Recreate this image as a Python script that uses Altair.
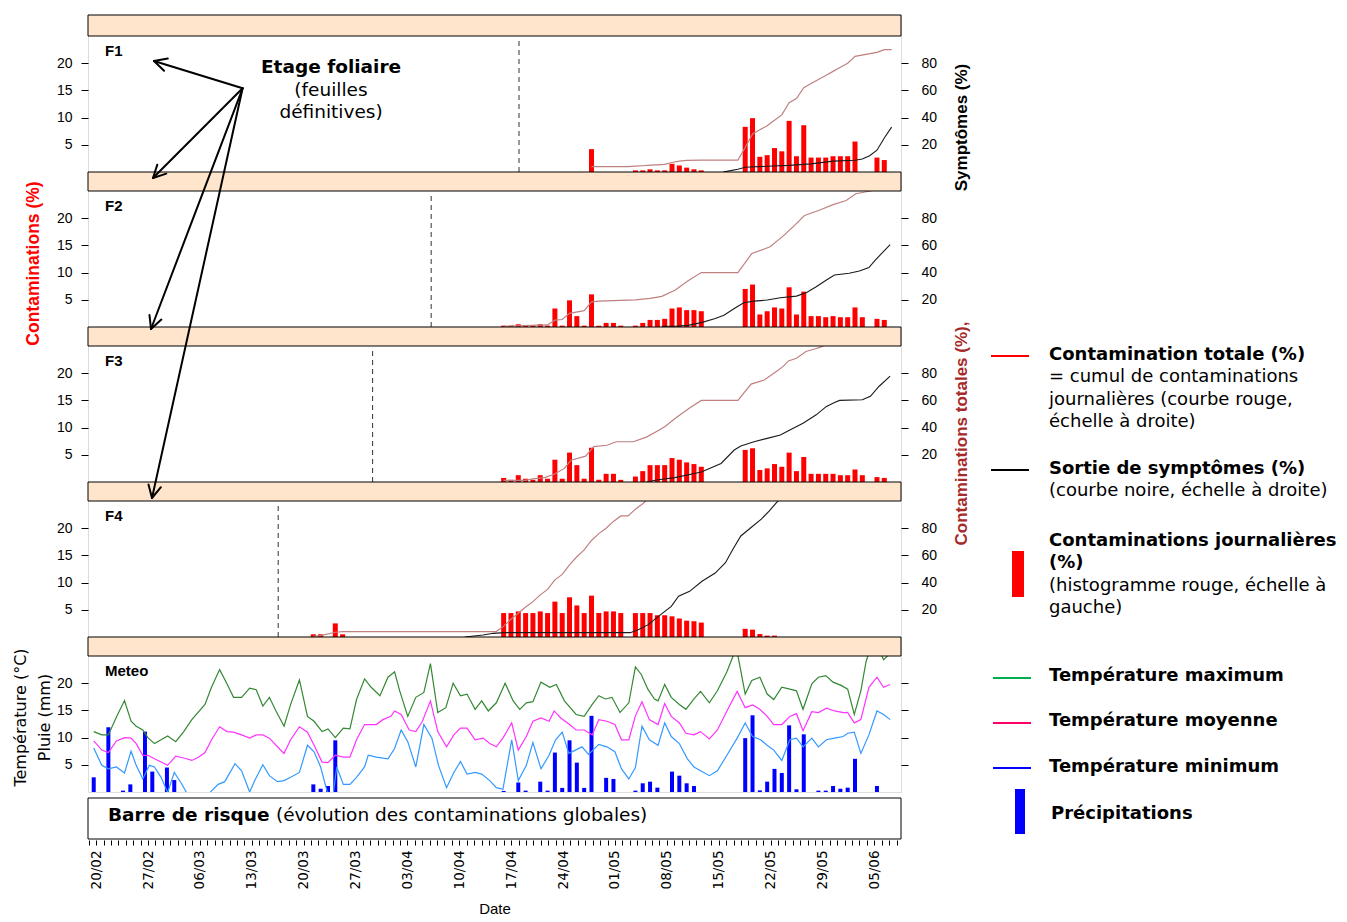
import math
import altair as alt
import pandas as pd

# ------------------------------------------------------------------ data
# x = day offset from 20/02 (0 = 20/02, 7 = 27/02, ...)
X_MIN, X_MAX = -1.1, 108.6
AXIS_DAYS = list(range(-1, 109))
DASH_DAYS = [57.1, 45.1, 37.1, 24.2]          # F1, F2, F3, F4 emergence lines

# daily contaminations (%), left scale
F1_DAYS = [67, 73, 74, 75, 76, 77, 78, 79, 80, 81, 82,
           88, 89, 90, 91, 92, 93, 94, 95, 96, 97, 98, 99, 100, 101, 102, 103, 106, 107]
F1_DAILY = [4.2, 0.3, 0.3, 0.5, 0.3, 0.3, 1.5, 1.2, 0.8, 0.5, 0.3,
            8.3, 9.9, 2.8, 3.1, 4.4, 3.8, 9.4, 2.9, 8.6, 2.65, 2.65, 2.65, 2.9, 2.9, 2.9, 5.6, 2.65, 2.2]
F2_DAYS = list(range(55, 108))
F2_DAILY = [0.25, 0.25, 0.5, 0.25, 0.25, 0.5, 0.25, 3.4, 0.25, 4.9,
            2.0, 0.25, 6.0, 0.25, 0.75, 0.75, 0.25, 0, 0.25, 0.75,
            1.3, 1.3, 1.5, 3.4, 3.6, 3.1, 3.1, 2.9,
            0, 0, 0, 0, 0,
            7.0, 7.8, 2.3, 2.9, 3.6, 3.4, 7.3, 2.3, 6.5, 2.0, 2.0, 1.8, 2.0, 1.8, 1.8, 3.6, 1.8,
            0, 1.5, 1.3]
F3_DAYS = list(range(55, 108))
F3_DAILY = [0.75, 0.4, 1.25, 0.6, 0.4, 1.25, 0.6, 4.1, 0.6, 5.4,
            3.1, 0.6, 6.3, 0.4, 1.5, 1.5, 0.4, 0, 1.0, 2.0,
            3.1, 3.1, 3.1, 4.4, 4.1, 3.6, 3.3, 2.8,
            0, 0, 0, 0, 0,
            5.9, 6.2, 2.2, 2.5, 3.3, 2.8, 5.4, 2.0, 4.6, 1.5, 1.5, 1.5, 1.5, 1.25, 1.25, 2.3, 1.25,
            0, 0.9, 0.75]
F4_DAYS = [29, 30, 32, 33] + list(range(55, 72)) + list(range(73, 83)) + list(range(88, 93))
F4_DAILY = [0.5, 0.5, 2.5, 0.5,
            4.4, 4.4, 4.7, 4.4, 4.4, 4.7, 4.4, 6.5, 4.4, 7.3, 5.8, 4.4, 7.6, 4.4, 4.7, 4.7, 4.4,
            4.4, 4.4, 4.4, 4.0, 4.0, 3.8, 3.4, 3.0, 2.9, 2.65,
            1.5, 1.35, 0.55, 0.25, 0.25]

# contamination totale (%), right scale
F1_TOT_DAYS = [67, 72, 73, 74, 75, 76, 77, 78, 79, 80, 82, 87, 88, 89, 90, 91, 92, 93, 94, 95,
               96, 97, 98, 99, 100, 101, 102, 103, 106, 107, 108]
F1_TOT = [4, 4, 4.3, 4.6, 5, 5.3, 5.6, 7, 8, 8.5, 8.8, 8.8, 18, 28, 31, 34, 38, 42, 51, 54,
          62, 65, 68, 71, 74, 77, 80, 85, 88, 90, 90]
F2_TOT_DAYS = [55, 61, 62, 63, 64, 66, 67, 68, 73, 75, 76.6, 78.4, 80.2, 82, 87, 88.9, 91.4, 93.2,
               94.6, 96.1, 98.2, 100, 101.8, 103.1, 105.1, 107]
F2_TOT = [0.5, 1.5, 5, 5.5, 10, 12, 18.5, 19, 20, 21, 22.5, 27, 34, 40, 40, 54, 59, 67,
          74, 82, 86, 90, 93, 98, 100, 103]
F3_TOT_DAYS = [55, 57.9, 59.2, 60.6, 61.9, 63.3, 64.2, 66.2, 67.3, 69.1, 70.4, 72.7, 74.5, 76.2,
               77.1, 78.5, 80.3, 82, 87, 88.8, 90.6, 92.3, 93.2, 93.9, 95, 96.3, 97.6, 98.2, 99, 101]
F3_TOT = [1.2, 1.2, 2.5, 3.2, 5.7, 10, 16, 19, 26, 27, 29.6, 29.6, 33, 38,
          41, 47, 54, 60, 60, 72, 75, 81.5, 85, 89, 91, 96, 98, 99, 101, 104]
F4_TOT_DAYS = [29, 30, 32, 33, 54, 55, 56, 57, 58, 59, 60, 61, 62, 63, 64, 65, 66, 67, 68, 69,
               70, 71, 72, 73, 74, 75, 76]
F4_TOT = [0.5, 1, 3.5, 4, 4, 8, 13, 17.5, 22, 26, 31, 35, 42, 46, 53, 59, 64, 71, 76, 80,
          85, 89, 89, 94, 98, 103, 107]

# sortie de symptomes (%), right scale
F1_SYM_DAYS = [85, 86, 87, 88, 91, 94, 97, 100, 103, 104, 105, 106, 107, 108]
F1_SYM = [0, 1, 2, 3.5, 4.2, 4.9, 6, 8, 8.6, 9.5, 12, 16, 25, 33]
F2_SYM_DAYS = [76.6, 78.4, 80.2, 82, 83.8, 85.1, 86.5, 87.8, 89.2, 91, 92.8, 95, 96.4, 97.7, 99.1,
               100.2, 102.2, 103.6, 104.9, 105.8, 107.8]
F2_SYM = [0.5, 0.5, 1.2, 3.2, 6, 8.6, 13.6, 17.8, 19, 19.8, 21.5, 22.7, 25.4, 29.6, 34.6,
          38.3, 39.5, 41.2, 43.7, 49.4, 60.5]
F3_SYM_DAYS = [74.5, 76.1, 78.4, 82, 84.7, 86.5, 87.4, 89.2, 91, 92.8, 94.1, 95.9, 97.7, 99.1,
               100.2, 100.9, 104, 105.1, 106.3, 107.8]
F3_SYM = [0, 1.7, 3.2, 7.4, 13.6, 23.5, 26.4, 29.6, 32.1, 34.6, 38.3, 43.2, 49.4, 55.6,
          58.5, 60, 60.5, 63, 70.4, 77.8]
F4_SYM_DAYS = [49.7, 52.2, 53.6, 55, 72.3, 73.3, 74.7, 76.1, 77.9, 78.9, 80.4, 82.1, 83.9, 85.3,
               86.3, 87.4, 88.8, 90.2, 91.3, 92.3, 93.3]
F4_SYM = [0, 1.5, 2.7, 3.2, 3.2, 5.2, 8.9, 15, 22.5, 30, 33.6, 41, 47, 54.6,
          64.4, 74.3, 80.5, 86.7, 92.8, 99, 104]

# meteo
TMAX_DAYS = [-1.0, 0.1, 1.0, 2.1, 3.2, 4.1, 4.8, 5.7, 6.4, 7.3, 8.2, 9.1, 10.2, 11.3, 12.4, 14.2,
             15.1, 16.2, 17.2, 18.1, 19.2, 20.3, 21.2, 22.1, 23.0, 23.9, 25.0, 25.9, 27.1, 28.2,
             29.1, 30.2, 31.0, 32.0, 33.1, 34.0, 34.9, 36.0,
             36.9, 38.1, 39.2, 40.1, 40.8, 41.9, 43.0, 44.1, 45.0, 46.0, 47.1, 48.1, 49.1, 50.0,
             51.1, 52.0, 52.9, 54.0, 55.2, 56.3, 57.2, 58.1, 59.0, 60.1, 61.3, 62.2, 63.3, 64.9,
             66.0, 67.1, 68.0, 68.9, 69.8, 70.9, 72.1,
             73.0, 73.8, 74.7, 75.6, 76.1, 77.0, 77.9, 79.0, 79.9, 81.0, 81.9, 83.1, 84.2, 85.5,
             86.4, 86.9, 88.0, 88.9, 90.0, 91.0, 91.9, 93.0, 94.1, 95.0, 95.9, 97.1, 98.0, 99.0,
             100.0, 101.1, 102.0, 102.9, 103.8, 104.5, 105.1, 106.0, 106.9, 107.6]
TMAX = [11.1, 10.5, 10.5, 13.8, 16.8, 13, 12.1, 11.4, 10, 8.9, 9.6, 10.3, 9.25, 11.1, 13.3, 16.1,
        19.3, 22.5, 19.9, 17.4, 17.4, 19.1, 18.8, 15.8, 17.4, 14.9, 12.1, 16.1, 20.6, 13.9,
        13, 11.1, 11.6, 10, 11.75, 11.6, 17, 20.8,
        19.25, 17.7, 21.1, 22.1, 18.6, 13.9, 17.4, 18.3, 23.6, 14.6, 15.5, 20, 17.7, 18,
        15.2, 16.75, 14.9, 16.4, 20, 16.75, 15.2, 16.4, 16.6, 20.2, 19.25, 19.75, 16.75, 14.25,
        13.9, 16.1, 17.7, 17.1, 17.4, 14.6, 16.4,
        23, 21.6, 18.9, 17.1, 16.75, 19.75, 17.4, 16.1, 15.2, 17.1, 18.5, 16.4, 18.6, 22.1,
        25.2, 25.8, 18, 20.5, 21.1, 18, 17, 19.25, 18.9, 18.6, 15.2, 19.9, 21.1, 21.4,
        20.2, 19.6, 18.9, 14.25, 18.6, 23.9, 26.5, 27, 24.3, 25.2]
TMEAN_DAYS = [-1.0, 0.1, 1.0, 2.1, 3.2, 4.1, 4.8, 5.7, 6.4, 7.3, 8.2, 9.1, 10.2, 11.3, 12.4, 13.3,
              14.2, 15.1, 16.2, 17.2, 18.1, 19.2, 20.3, 21.2, 22.1, 23.0, 23.9, 25.0, 25.9, 27.1,
              28.2, 29.1, 30.2, 31.0, 32.0, 33.1, 34.0, 34.9, 36.0,
              36.5, 37.6, 38.5, 39.6, 40.1, 41.0, 42.1, 43.0, 43.9, 45.0, 46.0, 47.2, 48.2, 49.1,
              50.0, 51.1, 52.2, 53.1, 54.0, 54.9, 56.1, 57.0, 58.1, 59.0, 60.1, 61.2, 61.9, 62.8,
              64.0, 64.9, 66.0, 67.1, 68.0, 69.1, 70.2, 71.1, 72.1,
              73.0, 73.9, 74.9, 76.1, 77.0, 77.9, 79.0, 79.9, 81.0, 81.9, 83.1, 84.2, 85.5, 86.9,
              88.0, 89.0, 90.0, 91.0, 91.9, 93.0, 94.1, 95.0, 95.9, 97.1, 98.0, 99.1, 100.2,
              101.4, 102.0, 102.9, 103.8, 104.9, 106.0, 106.9, 107.8]
TMEAN = [9.4, 7.7, 7.25, 9.4, 10, 9.9, 8.9, 6.75, 6.75, 6.1, 5.5, 4.9, 6.6, 6.25, 5.8, 6.4,
         7.25, 9.6, 12, 11.1, 11, 10.5, 9.9, 10.5, 10.5, 9.9, 8.6, 7.1, 9.6, 12,
         11, 8.6, 5.5, 5.4, 6.75, 6.4, 6.4, 9.6, 12.4,
         12.4, 12.4, 13.3, 13.9, 14.9, 14.25, 11.4, 11.1, 13, 16.75, 11.1, 8.3, 10.5, 11.75,
         11.75, 9.6, 9.9, 8.9, 8.3, 9.9, 12.7, 7.7, 10.2, 13, 13.6, 13, 14.9, 13.6,
         12.4, 11.4, 11.4, 10.5, 13.3, 13, 12.4, 9.6, 9.6,
         14, 16.6, 13.3, 12.4, 16.25, 13.9, 12.7, 10.8, 10.5, 11.1, 9.75, 11.4, 14.9, 18.5,
         15.5, 16, 15.2, 13.9, 12.4, 12.4, 13.9, 14.4, 11.25, 14.75, 14.6, 15.4, 14.9,
         14.6, 14.6, 12.7, 13.3, 19.25, 21.1, 19.25, 19.75]
TMIN_DAYS = [-1.0, 0.1, 1.0, 2.1, 3.2, 4.1, 4.8, 5.7, 6.6, 7.3, 8.2, 9.1, 10.0, 10.9, 11.8, 13.5,
             15.1, 16.0, 16.9, 18.3, 19.2, 20.3, 21.0, 22.1, 23.0, 24.1, 25.0, 25.9, 27.1, 28.2,
             29.1, 30.0, 30.9, 31.7, 32.2, 33.1, 34.0, 34.9, 36.0,
             36.5, 37.6, 39.2, 40.1, 41.0, 41.9, 43.0, 44.1, 45.2, 46.1, 47.2, 48.2, 49.1, 50.0,
             51.1, 52.0, 53.1, 54.0, 54.9, 56.1, 57.0, 58.1, 59.0, 60.1, 61.2, 62.1, 63.0, 63.9,
             64.8, 65.7, 66.6, 68.0, 69.1, 70.2, 71.1, 72.1,
             73.0, 73.9, 74.9, 76.1, 77.0, 77.9, 79.0, 80.1, 81.0, 81.9, 83.1, 84.2, 85.5, 86.9,
             88.0, 89.0, 90.1, 91.0, 91.9, 93.0, 94.1, 95.0, 95.9, 97.1, 98.0, 99.1, 100.2,
             101.4, 102.0, 102.9, 103.8, 104.9, 106.0, 106.9, 107.8]
TMIN = [8.1, 4.9, 4.25, 4.6, 3.5, 7.5, 4.9, 2.4, 4.9, 4.6, 2.7, -0.1, 3.6, 1.75, -0.4, -2,
        0.2, 1.4, 1.9, 5.2, 3.9, 0, 2.1, 5, 3, 1.9, 2.1, 2.7, 3.6, 8.6,
        7.4, 4.6, 0, -0.5, 4.6, 1.4, 1.4, 2.7, 4.6,
        6.75, 6.4, 6.1, 8, 11.4, 9.25, 4.6, 12.4, 9.9, 4.9, 0.8, 3.6, 5.6, 3.3,
        3.6, 3.3, 2.1, 0.8, 0.5, 9.6, 2.1, 4.9, 9.1, 4.25, 6.75, 9.6, 11, 7.1,
        7.7, 8.3, 6.9, 8.75, 8.3, 7.4, 4.25, 2.4,
        4.5, 12.1, 9.6, 8.6, 12.7, 10.2, 8.9, 6.1, 4.6, 3.9, 3, 3.9, 6.75, 9.9,
        12.7, 10.2, 9.6, 8.6, 7.7, 5.8, 9.6, 9.9, 8.3, 9.9, 8.3, 9.6, 9.9,
        10.2, 10.8, 11, 7.1, 10.5, 14.9, 14.25, 13.3]
RAIN_DAYS = [-1, 1, 3, 4, 6, 7, 9, 10, 29, 30, 31, 32, 55, 57, 58, 60, 61, 62, 63, 64, 65, 66, 67,
             69, 70, 73, 74, 75, 76, 78, 79, 80, 81, 88, 89, 90, 91, 92, 93, 94, 95, 96, 98, 99,
             100, 101, 102, 103, 106]
RAIN = [2.7, 11.9, 0.25, 1.4, 11.1, 3.75, 4.5, 2.2, 1.4, 0.6, 1.1, 9.5, 0.2, 1.75, 0.25, 1.9, 0.25,
        7.25, 0.75, 9.5, 5.4, 0.75, 14, 2.6, 2.4, 0.25, 1.6, 1.9, 0.8, 3.75, 3.0, 1.6, 1.1, 9.9,
        14.1, 0.3, 1.9, 4.25, 3.5, 12.25, 0.5, 10.6, 0.25, 0.25, 1.1, 0.6, 0.8, 6.1, 1.1]

# ------------------------------------------------------------------ style
W = 813
PLOT_H = 136
UNIT = PLOT_H / 25.0
STRIP = "#ffe5cc"
RED = "#ff0000"
TOT_COL = "#c08080"
SYM_COL = "#1a1a1a"
SANS = "Liberation Sans"
VERD = "DejaVu Sans"
XS = alt.Scale(domain=[X_MIN, X_MAX], nice=False, zero=False)
ONE = pd.DataFrame({"z": [0]})
TICK_FS = 14


def xenc(field="day"):
    return alt.X(f"{field}:Q", scale=XS, axis=None)


def axis_common(orient, values, labels=True):
    return dict(orient=orient, values=list(values), tickSize=7,
                labelPadding=9 if orient == "left" else 13, domain=False, grid=False,
                labelFont=SANS, labelFontSize=TICK_FS, labelColor="black", tickColor="black",
                ticks=True, labels=labels)


def title_kw(title, tx, ty, color, size=17, weight="bold", font=SANS, lh=None):
    kw = dict(title=title, titleX=tx, titleY=ty, titleAngle=270, titleBaseline="middle",
              titleAlign="center", titleColor=color, titleFont=font, titleFontSize=size,
              titleFontWeight=weight)
    if lh:
        kw["titleLineHeight"] = lh
    return kw


def make_axis(orient, values, title=None, labels=True, **tk):
    kw = axis_common(orient, values, labels)
    if title is None:
        kw["title"] = None
    else:
        kw.update(title_kw(title, **tk))
    return alt.Axis(**kw)


def overlay(strip_h, label):
    strip = alt.Chart(ONE).mark_rect(fill=STRIP, stroke="black", strokeWidth=1).encode(
        x=alt.value(0), x2=alt.value(W), y=alt.value(0), y2=alt.value(strip_h))
    txt = alt.Chart(ONE).mark_text(font=SANS, fontSize=15, fontWeight="bold", align="left",
                                   baseline="middle", color="black").encode(
        x=alt.value(17), y=alt.value(strip_h + 15), text=alt.value(label))
    return [strip, txt]


def f_panel(label, strip_h, days, daily, tdays, tot, sdays, sym, dash,
            ltitle=None, rtitle=None, extra=()):
    H = PLOT_H + strip_h
    ymax = 25 + strip_h / UNIT
    if ltitle:
        laxis = make_axis("left", [5, 10, 15, 20], ltitle[0], tx=ltitle[1], ty=ltitle[2],
                          color=RED, size=17.5)
    else:
        laxis = make_axis("left", [5, 10, 15, 20])
    if rtitle:
        raxis = make_axis("right", [20, 40, 60, 80], rtitle[0], tx=rtitle[1], ty=rtitle[2],
                          color=rtitle[3], size=17)
    else:
        raxis = make_axis("right", [20, 40, 60, 80])
    bars = alt.Chart(pd.DataFrame({"day": days, "v": daily})).mark_bar(color=RED, size=5).encode(
        x=xenc(),
        y=alt.Y("v:Q", scale=alt.Scale(domain=[0, ymax], nice=False, zero=True), axis=laxis))
    rscale = alt.Scale(domain=[0, 4 * ymax], nice=False, zero=True)
    tot_line = alt.Chart(pd.DataFrame({"day": tdays, "v": tot})).mark_line(
        clip=True, strokeWidth=1.2, color=TOT_COL).encode(
        x=xenc(), y=alt.Y("v:Q", scale=rscale, axis=raxis))
    sym_line = alt.Chart(pd.DataFrame({"day": sdays, "v": sym})).mark_line(
        clip=True, strokeWidth=1.1, color=SYM_COL).encode(
        x=xenc(), y=alt.Y("v:Q", scale=rscale, axis=raxis))
    dashrule = alt.Chart(pd.DataFrame({"d": [dash]})).mark_rule(
        strokeDash=[5, 4], color="#333333", strokeWidth=1).encode(
        x=xenc("d"), y=alt.value(strip_h + 5), y2=alt.value(H))
    layers = [bars, alt.layer(tot_line, sym_line), dashrule] + overlay(strip_h, label) + list(extra)
    return alt.layer(*layers).resolve_scale(y="independent").properties(width=W, height=H)


# ---- "Etage foliaire" annotation (in F1)
etage = [
    alt.Chart(ONE).mark_text(font=VERD, fontSize=18.5, fontWeight="bold", align="center",
                             baseline="middle", color="black").encode(
        x=alt.value(243), y=alt.value(52), text=alt.value("Etage foliaire")),
    alt.Chart(ONE).mark_text(font=VERD, fontSize=18.5, align="center", baseline="middle",
                             color="black", lineHeight=22).encode(
        x=alt.value(243), y=alt.value(75), text=alt.value(["(feuilles", "définitives)"])),
]

p1 = f_panel("F1", 21, F1_DAYS, F1_DAILY, F1_TOT_DAYS, F1_TOT, F1_SYM_DAYS, F1_SYM, DASH_DAYS[0],
             rtitle=("Symptômes (%)", 60, 112, "black"), extra=etage)
p2 = f_panel("F2", 19, F2_DAYS, F2_DAILY, F2_TOT_DAYS, F2_TOT, F2_SYM_DAYS, F2_SYM, DASH_DAYS[1],
             ltitle=("Contaminations (%)", -55, 91))
p3 = f_panel("F3", 19, F3_DAYS, F3_DAILY, F3_TOT_DAYS, F3_TOT, F3_SYM_DAYS, F3_SYM, DASH_DAYS[2],
             rtitle=("Contaminations totales (%),", 60, 106, "#a52a2a"))
p4 = f_panel("F4", 19, F4_DAYS, F4_DAILY, F4_TOT_DAYS, F4_TOT, F4_SYM_DAYS, F4_SYM, DASH_DAYS[3])

# ---- meteo panel
MS = 19
MH = PLOT_H + MS
mymax = 25 + MS / UNIT
mscale = alt.Scale(domain=[0, mymax], nice=False, zero=True)
maxis = make_axis("left", [5, 10, 15, 20], ["Température (°C)", "Pluie (mm)"], tx=-68, ty=80,
                  color="black", size=16, weight="normal", font=VERD, lh=24)
rain = alt.Chart(pd.DataFrame({"day": RAIN_DAYS, "v": RAIN})).mark_bar(color="#0000ff", size=4).encode(
    x=xenc(), y=alt.Y("v:Q", scale=mscale, axis=maxis))


def tline(days, vals, color):
    return alt.Chart(pd.DataFrame({"day": days, "v": vals})).mark_line(
        clip=True, strokeWidth=1.2, color=color).encode(
        x=xenc(), y=alt.Y("v:Q", scale=mscale, axis=maxis))


temps = [tline(TMAX_DAYS, TMAX, "#338833"), tline(TMEAN_DAYS, TMEAN, "#ff33ff"),
         tline(TMIN_DAYS, TMIN, "#3399ff")]
mright = alt.Chart(ONE).mark_point(opacity=0).encode(
    x=alt.value(0),
    y=alt.Y("z:Q", scale=alt.Scale(domain=[0, mymax], nice=False, zero=True),
            axis=make_axis("right", [5, 10, 15, 20], labels=False)))
meteo = alt.layer(alt.layer(rain, *temps), mright, *overlay(MS, "Meteo")).resolve_scale(
    y="independent").properties(width=W, height=MH)

# ---- risk bar + x axis + annotations (drawn last)
GAP = 6
RH = 47
box = alt.Chart(ONE).mark_rect(fill="white", stroke="black", strokeWidth=1).encode(
    x=alt.value(0), x2=alt.value(W), y=alt.value(GAP), y2=alt.value(RH))
label_expr = ("datum.value >= 0 && datum.value % 7 == 0 ? "
              "timeFormat(datetime(2007, 1, 20 + datum.value), '%d/%m') : ''")
xaxis = alt.Chart(pd.DataFrame({"day": AXIS_DAYS})).mark_point(opacity=0).encode(
    x=alt.X("day:Q", scale=XS,
            axis=alt.Axis(values=AXIS_DAYS, labelExpr=label_expr, labelAngle=270,
                          labelAlign="right", labelBaseline="middle", labelPadding=5,
                          labelOverlap=False, labelFont=VERD, labelFontSize=13.5,
                          labelColor="black", tickSize=5, tickColor="black", offset=1,
                          domain=False, grid=False, title="Date", titleFont=SANS,
                          titleFontSize=15, titleFontWeight="normal", titleY=68,
                          titleBaseline="middle", titleColor="black")),
    y=alt.value(20))
risk_txt = [
    alt.Chart(ONE).mark_text(font=VERD, fontSize=18.5, fontWeight="bold", align="left",
                             baseline="middle", color="black").encode(
        x=alt.value(20), y=alt.value(23), text=alt.value("Barre de risque")),
    alt.Chart(ONE).mark_text(font=VERD, fontSize=18.5, align="left", baseline="middle",
                             color="black").encode(
        x=alt.value(188), y=alt.value(23), text=alt.value("(évolution des contaminations globales)")),
]

# arrows from the "Etage foliaire" label to each leaf level (pixel geometry, risk-panel frame)
ORIG = (154.6, -703.7)
TIPS = [(66, -731), (65, -614), (63, -463), (64, -294)]
segs = []
for tx, ty in TIPS:
    segs.append((ORIG[0], ORIG[1], tx, ty))
    dx, dy = ORIG[0] - tx, ORIG[1] - ty
    n = math.hypot(dx, dy)
    ux, uy = dx / n, dy / n
    for a in (math.radians(27), math.radians(-27)):
        rx = ux * math.cos(a) - uy * math.sin(a)
        ry = ux * math.sin(a) + uy * math.cos(a)
        segs.append((tx, ty, tx + 14 * rx, ty + 14 * ry))
arrows = alt.Chart(pd.DataFrame(segs, columns=["x", "y", "x2", "y2"])).mark_rule(
    color="black", strokeWidth=2, strokeCap="round").encode(
    x=alt.X("x:Q", scale=None), y=alt.Y("y:Q", scale=None),
    x2="x2:Q", y2="y2:Q")

# legend (pixel geometry, risk-panel frame)
LEG_FS = 18


def leg_rule(x, x2, y, color):
    return alt.Chart(ONE).mark_rule(strokeWidth=2, color=color).encode(
        x=alt.value(x), x2=alt.value(x2), y=alt.value(y))


def leg_rect(x, x2, y, y2, color):
    return alt.Chart(ONE).mark_rect(color=color).encode(
        x=alt.value(x), x2=alt.value(x2), y=alt.value(y), y2=alt.value(y2))


leg_marks = [leg_rule(903, 941, -436, RED), leg_rule(903, 941, -322, "black"),
             leg_rule(905, 943, -114, "#00b050"), leg_rule(905, 943, -69, "#ff0066"),
             leg_rule(905, 943, -24, "#0000ff"),
             leg_rect(924, 936, -241, -195, RED), leg_rect(927, 937, -3, 42, "#0000ff")]
leg_bold = pd.DataFrame({
    "x": [961, 961, 961, 961, 961, 961, 961, 963],
    "y": [-437, -323, -251, -229, -116, -71, -25, 22],
    "t": ["Contamination totale (%)", "Sortie de symptômes (%)", "Contaminations journalières",
          "(%)", "Température maximum", "Température moyenne", "Température minimum",
          "Précipitations"]})
leg_reg = pd.DataFrame({
    "x": [961] * 6,
    "y": [-415, -392, -370, -301, -206, -184],
    "t": ["= cumul de contaminations", "journalières (courbe rouge,", "échelle à droite)",
          "(courbe noire, échelle à droite)", "(histogramme rouge, échelle à", "gauche)"]})
leg_bold_chart = alt.Chart(leg_bold).mark_text(font=VERD, fontSize=LEG_FS, fontWeight="bold",
                                               align="left", baseline="middle", color="black").encode(
    x=alt.X("x:Q", scale=None), y=alt.Y("y:Q", scale=None), text="t:N")
leg_reg_chart = alt.Chart(leg_reg).mark_text(font=VERD, fontSize=LEG_FS, align="left",
                                             baseline="middle", color="black").encode(
    x=alt.X("x:Q", scale=None), y=alt.Y("y:Q", scale=None), text="t:N")

risk = alt.layer(box, xaxis, *risk_txt, arrows, *leg_marks,
                 leg_bold_chart, leg_reg_chart).properties(
    width=W, height=RH, view=alt.ViewBackground(stroke="transparent"))

chart = alt.vconcat(p1, p2, p3, p4, meteo, risk, spacing=0, bounds="flush").properties(
    padding={"left": 3, "top": 6, "right": 0, "bottom": 0}
).configure_view(stroke="black", strokeWidth=1).configure(font=SANS)

chart.save("out.html", embed_options={"renderer": "svg", "actions": False})
